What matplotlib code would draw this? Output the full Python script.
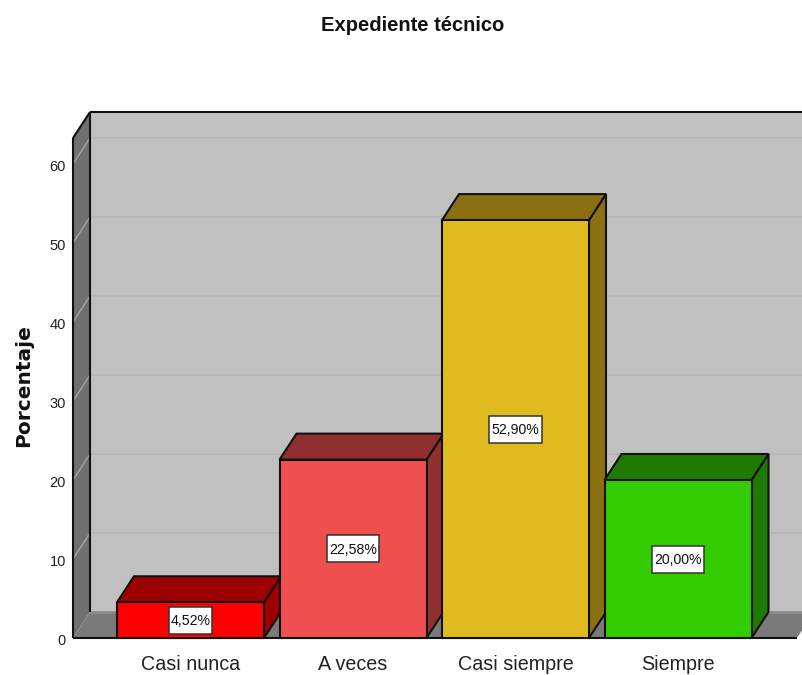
import matplotlib
matplotlib.use("Agg")
import matplotlib.pyplot as plt
from matplotlib.patches import Polygon, Rectangle

categories = ["Casi nunca", "A veces", "Casi siempre", "Siempre"]
values = [4.52, 22.58, 52.90, 20.00]
labels = ["4,52%", "22,58%", "52,90%", "20,00%"]
yticks = [0, 10, 20, 30, 40, 50, 60]
title = "Expediente técnico"
ylabel = "Porcentaje"

front = ["#ff0000", "#ef4f4f", "#e0bb1f", "#33cc00"]
shade = ["#9c0000", "#8f2f2f", "#8a7010", "#1f7a00"]

W, H = 802, 675
x_step, x_origin = 162.5, 190.5      # px per category, px of first category
y_unit, y_origin = 7.9, 638          # px per percent, px row of zero
DX, DY = 17 / x_step, 26 / y_unit    # 3-D depth in data units
BAR = 147 / x_step
font = "Liberation Sans"

fig = plt.figure(figsize=(W / 100, H / 100), dpi=100)
ax = fig.add_axes([0, 0, 1, 1])
ax.set_xlim(-x_origin / x_step, (W - x_origin) / x_step)
ax.set_ylim((y_origin - H) / y_unit, y_origin / y_unit)
ax.axis("off")

xl = (73 - x_origin) / x_step        # front-left edge of the frame
xr = (797 - x_origin) / x_step       # front-right edge of the floor
ytop = (638 - 138) / y_unit          # frame top at the front
xfar = xr + 3 * DX

# back wall
ax.add_patch(Polygon([(xl + DX, DY), (xfar, DY), (xfar, ytop + DY), (xl + DX, ytop + DY)],
                     fc="#c0c0c0", ec="none", zorder=1))
# left wall
ax.add_patch(Polygon([(xl, 0), (xl + DX, DY), (xl + DX, ytop + DY), (xl, ytop)],
                     fc="#707070", ec="none", zorder=2))
# gridlines on the back wall and left wall
for t in yticks:
    ax.plot([xl + DX, xfar], [t + DY, t + DY], color="#b5b5b5", lw=1.3, zorder=1.5)
    if t:
        ax.plot([xl, xl + DX], [t, t + DY], color="#a4a4a4", lw=1.0, zorder=2.5)
# floor
ax.add_patch(Polygon([(xl, 0), (xr, 0), (xr + DX, DY), (xl + DX, DY)],
                     fc="#7a7a7a", ec="none", zorder=2))
ax.plot([xl + DX, xfar], [DY, DY], color="#8c8c8c", lw=2, zorder=2.1)
# frame lines
k = dict(color="#111111", lw=1.5, zorder=3, solid_capstyle="butt")
ax.plot([xl, xl], [0, ytop], **k)
ax.plot([xl + DX, xl + DX], [DY, ytop + DY], **k)
ax.plot([xl, xl + DX], [ytop, ytop + DY], **k)
ax.plot([xl + DX, xfar], [ytop + DY, ytop + DY], **k)
ax.plot([xl, xr], [0, 0], **k)

# bars
box_h = 27 / y_unit
for i, v in enumerate(values):
    a, b = i - BAR / 2, i + BAR / 2
    z = 4 + i
    e = dict(ec="#111111", lw=1.5, joinstyle="miter", zorder=z)
    ax.add_patch(Polygon([(b, 0), (b + DX, DY), (b + DX, v + DY), (b, v)], fc=shade[i], **e))
    ax.add_patch(Polygon([(a, v), (b, v), (b + DX, v + DY), (a + DX, v + DY)], fc=shade[i], **e))
    ax.add_patch(Polygon([(a, 0), (b, 0), (b, v), (a, v)], fc=front[i], **e))
    box_w = (8.7 * len(labels[i])) / x_step
    ax.add_patch(Rectangle((i - box_w / 2, v / 2 - box_h / 2), box_w, box_h, fc="white",
                           ec="#333333", lw=1.1, zorder=19))
    ax.text(i, v / 2 - 0.1, labels[i], ha="center", va="center", family=font, fontsize=10.2,
            color="#111111", zorder=20)
    ax.text(i, (y_origin - 664) / y_unit, categories[i], ha="center", va="center", family=font,
            fontsize=14.2, color="#222222", zorder=20)

# y ticks
for t in yticks:
    ax.text((66 - x_origin) / x_step, t - 0.35, str(t), ha="right", va="center",
            family=font, fontsize=10.5, color="#222222")

ax.text((413 - x_origin) / x_step, (638 - 26) / y_unit, title, ha="center", va="center",
        family=font, fontsize=14.5, fontweight="bold", color="#111111")
ax.text((24 - x_origin) / x_step, (638 - 386) / y_unit, ylabel, rotation=90, ha="center",
        va="center", family="DejaVu Sans", fontsize=14.5, fontweight="bold", color="#111111")

fig.savefig("out.png", dpi=100)
